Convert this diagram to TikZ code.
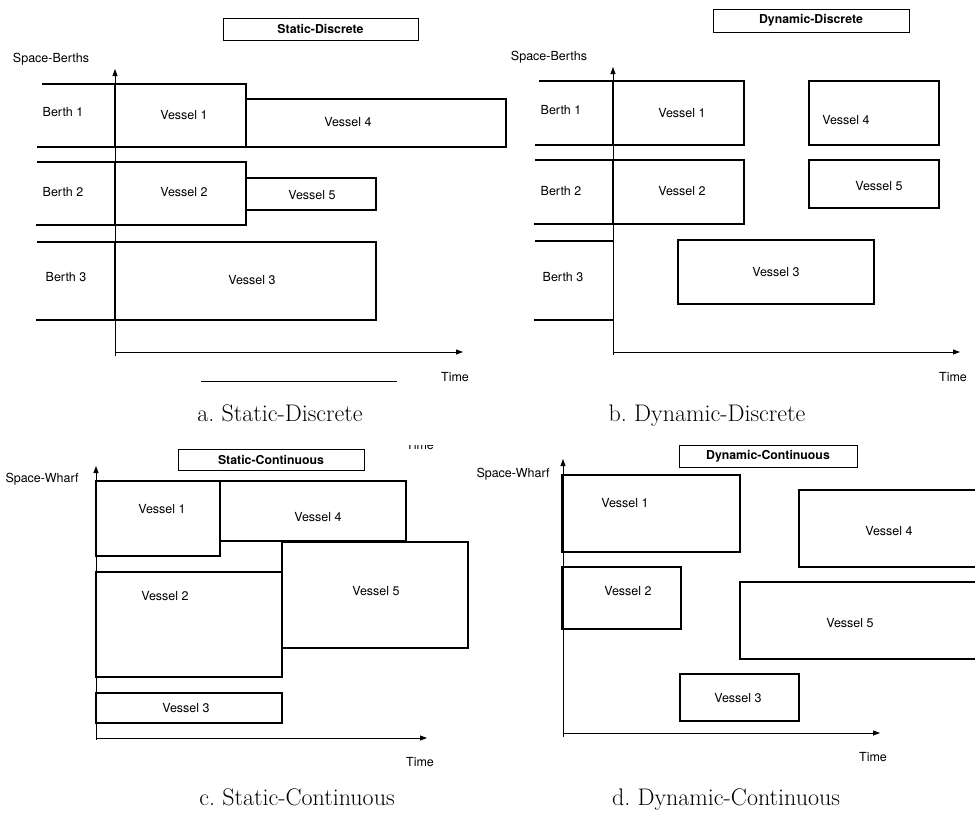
\documentclass[tikz,border=0pt]{standalone}
\usepackage{fontspec}
\setsansfont{TeX Gyre Heros}
\usetikzlibrary{arrows.meta}
\frenchspacing

\begin{document}
\begin{tikzpicture}[%
  x=1pt, y=-1pt,
  box/.style = {line width=1.2pt},
  heavy/.style = {line width=1.8pt},
  axis/.style = {line width=0.8pt, ->},
  lbl/.style = {font=\sffamily\fontsize{12.5}{14}\selectfont, inner sep=0pt},
  title/.style = {draw, line width=1pt, inner sep=0pt,
    font=\sffamily\bfseries\fontsize{12.3}{14}\selectfont},
  caption/.style = {font=\fontsize{24}{28}\selectfont, inner sep=0pt, anchor=base},
  >={Triangle[length=7pt,width=5pt]},
]

  \clip (0,0) rectangle (975,812);

  % a. Static-Discrete
  \coordinate (Oa) at (115,352);
  \coordinate (Ya) at (115,69);
  \coordinate (Xa) at (463,352);
  \draw[axis] (115,356) -- (Ya);
  \draw[axis] (Oa) -- (Xa);
  \node[title, minimum width=195pt, minimum height=22pt] (ta) at (320.5,29) {Static-Discrete};
  \node[lbl, anchor=base] (sa) at (51,62) {Space-Berths};
  \node[lbl] (tia) at (455,377) {Time};
  \draw[line width=0.8pt] (201,381) -- (397,381);

  \draw[heavy] (42,84) -- (119,84);
  \draw[heavy] (37,147) -- (115,147);
  \draw[heavy] (37,162) -- (115,162);
  \draw[heavy] (36,225) -- (115,225);
  \draw[heavy] (37,242) -- (115,242);
  \draw[heavy] (36,320) -- (115,320);

  \draw[box] (115,84) rectangle (246,147);
  \draw[box] (246,99) rectangle (506,147);
  \draw[box] (115,162) rectangle (246,225);
  \draw[box] (246,178) rectangle (376,210);
  \draw[heavy] (115,242) rectangle (376,320);

  \node[lbl] (ba1) at (63,112) {Berth 1};
  \node[lbl] (ba2) at (63,192) {Berth 2};
  \node[lbl] (ba3) at (66,277) {Berth 3};
  \node[lbl] (va1) at (184,115) {Vessel 1};
  \node[lbl] (va4) at (348,122) {Vessel 4};
  \node[lbl] (va2) at (184,192) {Vessel 2};
  \node[lbl] (va5) at (312,195) {Vessel 5};
  \node[lbl] (va3) at (252,280) {Vessel 3};
  \node[caption] (ca) at (280,421) {a. Static-Discrete};

  % b. Dynamic-Discrete
  \coordinate (Ob) at (613,352);
  \coordinate (Yb) at (613,67);
  \coordinate (Xb) at (960,352);
  \draw[axis] (613,355) -- (Yb);
  \draw[axis] (Ob) -- (Xb);
  \node[title, minimum width=196pt, minimum height=23pt] (tb) at (811,20.5) {Dynamic-Discrete};
  \node[lbl, anchor=base] (sb) at (549,60) {Space-Berths};
  \node[lbl] (tib) at (953,377) {Time};

  \draw[heavy] (539,81) -- (618,81);
  \draw[heavy] (535,145) -- (613,145);
  \draw[heavy] (535,160) -- (613,160);
  \draw[heavy] (534,224) -- (613,224);
  \draw[heavy] (535,241) -- (613,241);
  \draw[heavy] (534,320) -- (613,320);

  \draw[box] (613,81) rectangle (744,145);
  \draw[box] (613,160) rectangle (744,224);
  \draw[heavy] (678,240) rectangle (874,304);
  \draw[heavy] (809,81) rectangle (939,145);
  \draw[heavy] (809,160) rectangle (939,208);

  \node[lbl] (bb1) at (561,110) {Berth 1};
  \node[lbl] (bb2) at (561,191) {Berth 2};
  \node[lbl] (bb3) at (563,277) {Berth 3};
  \node[lbl] (vb1) at (682,113) {Vessel 1};
  \node[lbl] (vb2) at (682,191) {Vessel 2};
  \node[lbl] (vb3) at (776,272) {Vessel 3};
  \node[lbl] (vb4) at (846,120) {Vessel 4};
  \node[lbl] (vb5) at (879,186) {Vessel 5};
  \node[caption] (cb) at (707,421) {b. Dynamic-Discrete};

  % c. Static-Continuous
  \coordinate (Oc) at (96,738);
  \coordinate (Yc) at (96,466);
  \coordinate (Xc) at (427,738);
  \draw[axis] (96,740) -- (Yc);
  \draw[axis] (Oc) -- (Xc);
  \node[title, minimum width=186pt, minimum height=21pt] (tc) at (271,459.5) {Static-Continuous};
  \node[lbl, anchor=base] (sc) at (42,482) {Space-Wharf};
  \node[lbl] (tic) at (420,762) {Time};
  \begin{scope}
    \clip (395,445) rectangle (445,455);
    \node[lbl, anchor=base] (tic2) at (420,449) {Time};
  \end{scope}

  \draw[heavy] (96,481) rectangle (220,556);
  \draw[heavy] (220,481) rectangle (406,541);
  \draw[heavy] (282,542) rectangle (468,648);
  \draw[heavy] (96,572) rectangle (282,677);
  \draw[heavy] (96,693) rectangle (282,723);

  \node[lbl] (vc1) at (162,509) {Vessel 1};
  \node[lbl] (vc4) at (318,517) {Vessel 4};
  \node[lbl] (vc2) at (165,596) {Vessel 2};
  \node[lbl] (vc5) at (376,591) {Vessel 5};
  \node[lbl] (vc3) at (186,708) {Vessel 3};
  \node[caption] (cc) at (297,805) {c. Static-Continuous};

  % d. Dynamic-Continuous
  \coordinate (Od) at (563,733);
  \coordinate (Yd) at (563,459);
  \coordinate (Xd) at (880,733);
  \draw[axis] (563,737) -- (Yd);
  \draw[axis] (Od) -- (Xd);
  \node[title, minimum width=178pt, minimum height=22pt] (td) at (768,456) {Dynamic-Continuous};
  \node[lbl, anchor=base] (sd) at (513,477) {Space-Wharf};
  \node[lbl] (tid) at (873,757) {Time};

  \draw[box] (562,475) rectangle (740,552);
  \draw[box] (562,567) rectangle (681,629);
  \draw[heavy] (799,490) rectangle (990,567);
  \draw[box] (740,582) rectangle (990,659);
  \draw[heavy] (680,674) rectangle (799,721);

  \node[lbl] (vd1) at (625,503) {Vessel 1};
  \node[lbl] (vd2) at (628,591) {Vessel 2};
  \node[lbl] (vd4) at (889,531) {Vessel 4};
  \node[lbl] (vd5) at (850,623) {Vessel 5};
  \node[lbl] (vd3) at (738,698) {Vessel 3};
  \node[caption] (cd) at (726,805) {d. Dynamic-Continuous};

\end{tikzpicture}
\end{document}
